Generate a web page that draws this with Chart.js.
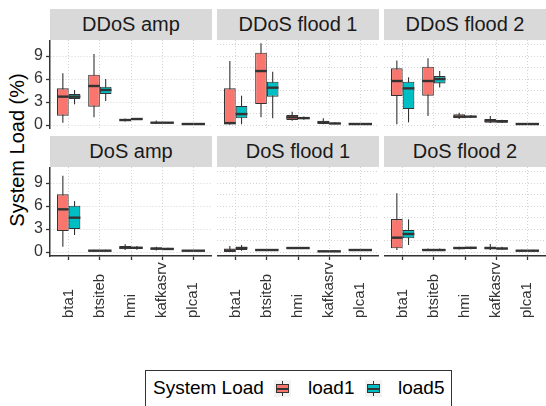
<!DOCTYPE html>
<html>
<head>
<meta charset="utf-8">
<script src="https://cdn.jsdelivr.net/npm/chart.js@4.4.0/dist/chart.umd.min.js"></script>
<style>
  body { margin: 0; width: 546px; height: 406px; overflow: hidden; background: #fff; position: relative;
         font-family: "Liberation Sans", Arial, sans-serif; }
  canvas { position: absolute; }
  .strip { position: absolute; background: #d9d9d9; color: #1a1a1a; font-size: 20px; text-align: center; }
  #ytitle { position: absolute; left: 17px; top: 150px; transform: translate(-50%, -50%) rotate(-90deg);
            white-space: nowrap; font-size: 20px; color: #000; }
  #legend { position: absolute; left: 145px; top: 370px; width: 307px; height: 46px; border: 1px solid #333; box-sizing: border-box; }
  .ltext { position: absolute; font-size: 19px; line-height: 22px; top: 377px; color: #000; white-space: nowrap; }
  .key { position: absolute; top: 380px; width: 17px; height: 17px; background: #f2f2f2; }
  .key .wh { position: absolute; left: 8px; top: 1px; width: 1px; height: 15px; background: #333; }
  .key .bx { position: absolute; left: 2px; top: 4px; width: 13px; height: 9px; border: 1px solid #333; box-sizing: border-box; }
  .key .md { position: absolute; left: 2px; top: 7.5px; width: 13px; height: 2px; background: #333; }
</style>
</head>
<body>
<div id="ytitle">System Load (%)</div>
<div id="legend"></div>
<script>
const categories = ['bta1', 'btsiteb', 'hmi', 'kafkasrv', 'plca1'];
const facetTitles = ['DDoS amp', 'DDoS flood 1', 'DDoS flood 2', 'DoS amp', 'DoS flood 1', 'DoS flood 2'];
const seriesNames = ['load1', 'load5'];
const seriesColors = ['#F8766D', '#00BFC4'];
const yTicks = [0, 3, 6, 9];

// each entry: [lower whisker, q1, median, q3, upper whisker], one per category
const ddosAmpLoad1 = [[0.3, 1.22, 3.7, 4.78, 6.74], [1.0, 2.39, 5.09, 6.57, 9.26], [0.45, 0.55, 0.65, 0.75, 0.85], [0.15, 0.22, 0.3, 0.4, 0.6], [0.08, 0.1, 0.13, 0.16, 0.2]];
const ddosAmpLoad5 = [[2.7, 3.39, 3.7, 4.04, 4.57], [3.13, 4.04, 4.57, 5.0, 6.0], [0.65, 0.7, 0.78, 0.85, 0.9], [0.2, 0.25, 0.3, 0.35, 0.4], [0.08, 0.1, 0.13, 0.16, 0.2]];
const ddosFlood1Load1 = [[0.05, 0.1, 0.25, 4.78, 8.35], [1.0, 2.74, 7.04, 9.43, 10.65], [0.57, 0.65, 1.0, 1.3, 1.74], [0.1, 0.13, 0.35, 0.57, 0.87], [0.08, 0.1, 0.13, 0.16, 0.2]];
const ddosFlood1Load5 = [[0.1, 0.87, 1.43, 2.48, 3.83], [0.87, 3.7, 4.87, 5.65, 6.96], [0.7, 0.8, 0.9, 1.0, 1.1], [0.1, 0.13, 0.2, 0.3, 0.35], [0.08, 0.1, 0.13, 0.16, 0.2]];
const ddosFlood2Load1 = [[0.09, 3.78, 5.74, 7.39, 8.4], [1.17, 3.83, 5.74, 7.6, 8.7], [0.78, 0.87, 1.09, 1.39, 1.6], [0.25, 0.3, 0.57, 0.78, 1.17], [0.08, 0.1, 0.13, 0.16, 0.2]];
const ddosFlood2Load5 = [[0.35, 2.09, 4.78, 5.65, 6.22], [4.9, 5.43, 6.0, 6.39, 7.04], [0.9, 1.0, 1.09, 1.2, 1.3], [0.25, 0.3, 0.48, 0.65, 0.7], [0.08, 0.1, 0.13, 0.16, 0.2]];
const dosAmpLoad1 = [[0.7, 2.74, 5.57, 7.52, 9.96], [0.1, 0.13, 0.17, 0.22, 0.28], [0.25, 0.35, 0.57, 0.78, 1.0], [0.2, 0.3, 0.45, 0.6, 0.7], [0.08, 0.12, 0.17, 0.22, 0.26]];
const dosAmpLoad5 = [[2.22, 3.0, 4.48, 6.04, 6.65], [0.1, 0.13, 0.17, 0.22, 0.28], [0.3, 0.4, 0.55, 0.7, 0.8], [0.25, 0.3, 0.4, 0.5, 0.55], [0.08, 0.12, 0.17, 0.22, 0.26]];
const dosFlood1Load1 = [[0.0, 0.02, 0.17, 0.45, 0.78], [0.12, 0.17, 0.26, 0.35, 0.4], [0.38, 0.43, 0.52, 0.6, 0.65], [0.0, 0.02, 0.09, 0.17, 0.22], [0.12, 0.17, 0.26, 0.35, 0.4]];
const dosFlood1Load5 = [[0.15, 0.26, 0.52, 0.7, 0.91], [0.12, 0.17, 0.26, 0.35, 0.4], [0.38, 0.43, 0.52, 0.6, 0.65], [0.0, 0.02, 0.09, 0.17, 0.22], [0.12, 0.17, 0.26, 0.35, 0.4]];
const dosFlood2Load1 = [[0.26, 0.48, 1.87, 4.3, 7.65], [0.12, 0.17, 0.26, 0.39, 0.45], [0.33, 0.39, 0.52, 0.61, 0.7], [0.25, 0.35, 0.52, 0.7, 1.04], [0.05, 0.09, 0.17, 0.26, 0.3]];
const dosFlood2Load5 = [[0.91, 1.78, 2.35, 2.87, 4.26], [0.12, 0.17, 0.26, 0.39, 0.45], [0.35, 0.42, 0.55, 0.63, 0.7], [0.28, 0.35, 0.45, 0.6, 0.7], [0.05, 0.09, 0.17, 0.26, 0.3]];

const facetData = [
  [ddosAmpLoad1, ddosAmpLoad5], [ddosFlood1Load1, ddosFlood1Load5], [ddosFlood2Load1, ddosFlood2Load5],
  [dosAmpLoad1, dosAmpLoad5], [dosFlood1Load1, dosFlood1Load5], [dosFlood2Load1, dosFlood2Load5]
];

// panel layout (ggplot facet grid)
const colX = [50, 217, 384];
const rowY = [40, 167];
const PANEL_W = 162, PANEL_H = 89, STRIP_H = 31;
const X_AXIS_H = 72;
const FONT = '"Liberation Sans", Arial, sans-serif';
const INK = '#333333';

Chart.defaults.font.family = FONT;

// minor grid lines halfway between major ticks
const gridValues = [];
yTicks.forEach(v => { gridValues.push(v, v + (yTicks[1] - yTicks[0]) / 2); });

const boxPlot = {
  id: 'boxPlot',
  beforeDatasetsDraw(chart) {
    const y = chart.scales.y, ctx = chart.ctx;
    ctx.save();
    ctx.strokeStyle = INK;
    ctx.lineWidth = 1.1;
    chart.data.datasets.forEach((ds, d) => {
      chart.getDatasetMeta(d).data.forEach((bar, i) => {
        const st = ds.stats[i];
        ctx.beginPath();
        ctx.moveTo(bar.x, y.getPixelForValue(st[0]));
        ctx.lineTo(bar.x, y.getPixelForValue(st[4]));
        ctx.stroke();
      });
    });
    ctx.restore();
  },
  afterDatasetsDraw(chart) {
    const y = chart.scales.y, ctx = chart.ctx;
    ctx.save();
    ctx.strokeStyle = INK;
    ctx.lineWidth = 2.4;
    chart.data.datasets.forEach((ds, d) => {
      chart.getDatasetMeta(d).data.forEach((bar, i) => {
        const py = y.getPixelForValue(ds.stats[i][2]);
        ctx.beginPath();
        ctx.moveTo(bar.x - bar.width / 2, py);
        ctx.lineTo(bar.x + bar.width / 2, py);
        ctx.stroke();
      });
    });
    ctx.restore();
  }
};

// rotated x labels, bottom-aligned like ggplot hjust = 0
const xLabels = {
  id: 'xLabels',
  afterDraw(chart) {
    if (!chart.options.plugins.xLabels.show) return;
    const xs = chart.scales.x, ctx = chart.ctx;
    const base = chart.chartArea.bottom + 62;
    ctx.save();
    ctx.font = '15px ' + FONT;
    ctx.fillStyle = INK;
    ctx.textAlign = 'left';
    ctx.textBaseline = 'middle';
    categories.forEach((c, i) => {
      ctx.save();
      ctx.translate(xs.getPixelForValue(i + 1), base);
      ctx.rotate(-Math.PI / 2);
      ctx.fillText(c, 0, 0);
      ctx.restore();
    });
    ctx.restore();
  }
};

facetTitles.forEach((title, idx) => {
  const row = Math.floor(idx / 3), col = idx % 3;
  const isLeft = col === 0, isBottom = row === 1;
  const axisW = isLeft ? colX[0] : 0;
  const axisH = isBottom ? X_AXIS_H : 0;

  const strip = document.createElement('div');
  strip.className = 'strip';
  strip.textContent = title;
  strip.style.left = colX[col] + 'px';
  strip.style.top = (rowY[row] - STRIP_H) + 'px';
  strip.style.width = PANEL_W + 'px';
  strip.style.height = STRIP_H + 'px';
  strip.style.lineHeight = STRIP_H + 'px';
  document.body.appendChild(strip);

  const canvas = document.createElement('canvas');
  canvas.width = PANEL_W + axisW;
  canvas.height = PANEL_H + axisH;
  canvas.style.left = (colX[col] - axisW) + 'px';
  canvas.style.top = rowY[row] + 'px';
  document.body.appendChild(canvas);

  new Chart(canvas, {
    type: 'bar',
    data: {
      datasets: facetData[idx].map((stats, s) => ({
        label: seriesNames[s],
        data: stats.map((st, i) => ({ x: i + 1, y: [st[1], st[3]] })),
        stats: stats,
        backgroundColor: seriesColors[s],
        borderColor: INK,
        borderWidth: 1.1,
        borderSkipped: false,
        categoryPercentage: 0.75,
        barPercentage: 1
      }))
    },
    options: {
      responsive: false,
      animation: false,
      layout: { padding: 0 },
      plugins: { legend: { display: false }, tooltip: { enabled: false }, xLabels: { show: isBottom } },
      scales: {
        x: {
          type: 'linear', min: 0.4, max: 5.6, offset: false,
          afterBuildTicks: s => { s.ticks = categories.map((c, i) => ({ value: i + 1 })); },
          afterFit: s => { s.height = axisH; s.paddingLeft = 0; s.paddingRight = 0; },
          ticks: { display: false },
          grid: { offset: false, color: '#d4d4d4', drawTicks: isBottom, tickLength: 4, tickColor: INK, tickWidth: 1.3 },
          border: { display: isBottom, color: INK, width: 1.5, dash: [1, 2] }
        },
        y: {
          min: -0.52, max: 11.09,
          afterBuildTicks: s => { s.ticks = gridValues.map(v => ({ value: v })); },
          afterFit: s => { s.width = axisW; s.paddingTop = 0; s.paddingBottom = 0; },
          ticks: {
            display: isLeft, padding: 3, color: INK, font: { size: 16 },
            callback: v => yTicks.includes(v) ? String(v) : ''
          },
          grid: {
            color: '#d4d4d4', drawTicks: isLeft, tickLength: 4, tickWidth: 1.3,
            tickColor: c => (c.tick && yTicks.includes(c.tick.value)) ? INK : 'rgba(0,0,0,0)'
          },
          border: { display: isLeft, color: INK, width: 1.5, dash: [1, 2] }
        }
      }
    },
    plugins: [boxPlot, xLabels]
  });
});

// legend
const legendItems = [
  { cls: 'ltext', left: 153, text: 'System Load' },
  { key: 0, left: 274 }, { cls: 'ltext', left: 308, text: seriesNames[0] },
  { key: 1, left: 365 }, { cls: 'ltext', left: 398, text: seriesNames[1] }
];
legendItems.forEach(item => {
  const el = document.createElement('div');
  el.style.left = item.left + 'px';
  if (item.text) {
    el.className = item.cls;
    el.textContent = item.text;
  } else {
    el.className = 'key';
    el.innerHTML = '<div class="wh"></div><div class="bx" style="background:' + seriesColors[item.key] + '"></div><div class="md"></div>';
  }
  document.body.appendChild(el);
});
</script>
</body>
</html>
